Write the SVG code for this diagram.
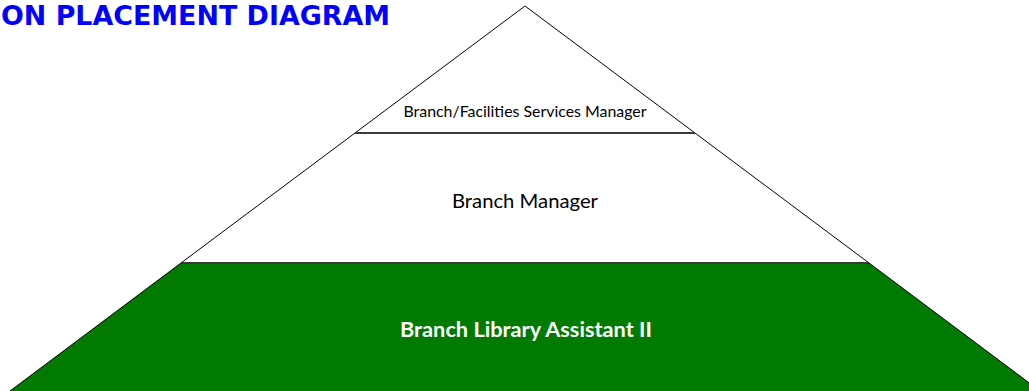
<svg xmlns="http://www.w3.org/2000/svg" width="1029" height="391" viewBox="0 0 1029 391">
<style>
.edge{stroke:#000;stroke-width:1;}
.sep{stroke:#3a3a3a;stroke-width:2;}
.lbl{font-family:Lato,"Open Sans","Liberation Sans",sans-serif;text-anchor:middle;fill:#000;}
.title{font-family:"DejaVu Sans",Verdana,sans-serif;font-weight:bold;fill:#0000FF;font-size:27px;}
</style>
<rect width="1029" height="391" fill="#fff"/>
<text class="title" x="1" y="25" textLength="389" lengthAdjust="spacingAndGlyphs">ON PLACEMENT DIAGRAM</text>
<g id="tier-top">
<polygon class="edge" points="525,6 695,133 355,133" fill="#fff"/>
<text class="lbl" x="525" y="117" font-size="15" textLength="243" lengthAdjust="spacingAndGlyphs">Branch/Facilities Services Manager</text>
</g>
<g id="tier-middle">
<polygon class="edge" points="355,133 695,133 869,263 181,263" fill="#fff"/>
<text class="lbl" x="525" y="208" font-size="19" textLength="146" lengthAdjust="spacingAndGlyphs">Branch Manager</text>
</g>
<g id="tier-bottom">
<polygon class="edge" points="181,263 869,263 1052,400 -2,400" fill="#007a00"/>
<text class="lbl" x="526" y="337" font-size="20" font-weight="bold" style="fill:#fff" textLength="252" lengthAdjust="spacingAndGlyphs">Branch Library Assistant II</text>
</g>
<g id="connectors">
<line class="sep" x1="355" y1="133" x2="695" y2="133"/>
<line class="sep" x1="182" y1="263" x2="868" y2="263"/>
</g>
</svg>
